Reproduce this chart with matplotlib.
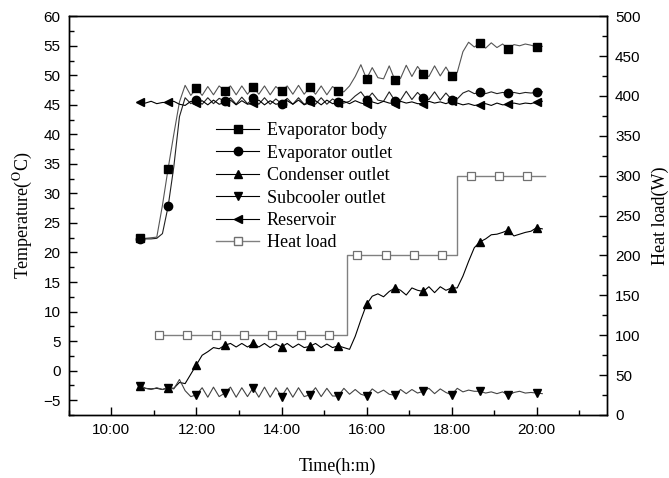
import numpy as np
import matplotlib
matplotlib.use("Agg")
import matplotlib.pyplot as plt
from matplotlib.lines import Line2D

plt.rcParams['mathtext.fontset'] = 'stix'

# logger time stamps (h:m), markers every 5th sample
times = ["10:40", "10:48", "10:56", "11:04", "11:12", "11:20", "11:28", "11:36", "11:44", "11:52",
         "12:00", "12:08", "12:16", "12:24", "12:32", "12:40", "12:48", "12:56", "13:04", "13:12",
         "13:20", "13:28", "13:36", "13:44", "13:52", "14:00", "14:08", "14:16", "14:24", "14:32",
         "14:40", "14:48", "14:56", "15:04", "15:12", "15:20", "15:28", "15:36", "15:44", "15:52",
         "16:00", "16:08", "16:16", "16:24", "16:32", "16:40", "16:48", "16:56", "17:04", "17:12",
         "17:20", "17:28", "17:36", "17:44", "17:52", "18:00", "18:08", "18:16", "18:24", "18:32",
         "18:40", "18:48", "18:56", "19:04", "19:12", "19:20", "19:28", "19:36", "19:44", "19:52",
         "20:00", "20:08"]

evap_body = [22.5, 22.4, 22.5, 22.6, 28.0, 34.2, 40.0, 45.5, 48.3, 46.6,
             47.8, 46.6, 48.1, 46.7, 48.2, 47.4, 48.2, 46.7, 48.2, 46.8,
             48.0, 46.8, 48.2, 46.7, 48.1, 47.3, 48.2, 46.8, 48.3, 46.8,
             48.0, 46.8, 48.2, 46.7, 48.1, 47.4, 47.2, 48.2, 49.8, 51.8,
             49.4, 51.3, 49.6, 49.4, 51.6, 49.2, 49.5, 51.7, 49.8, 51.5,
             50.2, 49.8, 51.6, 49.9, 51.4, 49.8, 50.5, 54.0, 55.6, 54.8,
             55.4, 54.6, 55.5, 54.7, 55.3, 54.5, 55.2, 55.0, 55.3, 55.1,
             54.8, 54.9]

evap_outlet = [22.3, 22.3, 22.3, 22.4, 23.2, 27.8, 34.5, 43.0, 46.2, 45.2,
               45.8, 45.1, 46.2, 45.2, 46.1, 45.6, 46.2, 45.1, 46.3, 45.2,
               46.1, 45.1, 46.2, 45.1, 46.0, 45.2, 46.1, 45.1, 46.2, 45.1,
               45.8, 45.1, 46.2, 45.1, 46.0, 45.4, 45.3, 45.6, 46.5, 47.2,
               45.9, 47.0, 45.8, 45.6, 47.2, 45.7, 45.8, 47.3, 45.9, 47.1,
               46.1, 45.9, 47.2, 45.8, 47.0, 45.9, 46.0, 47.0, 47.4, 46.9,
               47.1, 46.9, 47.2, 46.9, 47.1, 47.0, 47.1, 46.9, 47.1, 47.0,
               47.1, 47.2]

cond_outlet = [-2.6, -3.0, -3.1, -3.0, -3.2, -2.9, -3.0, -2.0, -2.2, -0.6,
               1.0, 2.6, 3.2, 3.9, 3.7, 4.3, 4.6, 4.0, 4.6, 4.0,
               4.6, 4.0, 4.6, 3.9, 4.5, 4.0, 4.6, 3.9, 4.5, 3.9,
               4.1, 4.6, 3.9, 4.5, 3.9, 4.2, 3.9, 3.6, 5.8, 8.6,
               11.2, 12.6, 13.0, 12.5, 13.4, 14.0, 13.6, 12.8, 14.0, 13.6,
               13.4, 14.2, 13.2, 14.2, 13.6, 14.0, 14.0, 16.0, 18.5, 20.8,
               21.8, 22.3, 23.0, 23.1, 23.4, 23.8, 22.8, 23.1, 23.4, 23.6,
               24.2, 24.0]

subcooler = [-2.6, -3.0, -3.2, -2.9, -3.2, -2.9, -3.1, -1.5, -3.4, -4.4,
             -4.1, -2.9, -4.5, -2.8, -4.4, -3.8, -2.8, -4.5, -2.9, -4.4,
             -2.9, -4.5, -2.8, -4.5, -2.9, -4.4, -2.9, -4.5, -2.9, -4.4,
             -4.1, -2.9, -4.4, -3.0, -4.3, -4.3, -3.0, -4.0, -3.2, -4.0,
             -4.3, -3.1, -3.8, -3.3, -4.0, -4.2, -3.2, -3.9, -3.2, -3.8,
             -3.5, -3.0, -3.9, -3.1, -3.7, -4.1, -3.0, -3.6, -3.3, -3.5,
             -3.5, -3.8, -3.6, -3.9, -3.6, -4.2, -3.7, -3.5, -3.8, -3.7,
             -3.8, -3.9]

reservoir = [45.5, 45.3, 45.6, 45.2, 45.4, 45.4, 45.6, 45.1, 44.9, 45.6,
             45.3, 45.7, 45.0, 45.8, 45.1, 45.4, 45.8, 45.0, 45.7, 45.1,
             45.3, 45.8, 45.0, 45.7, 45.1, 45.3, 45.7, 45.1, 45.8, 45.0,
             45.4, 45.7, 45.0, 45.8, 45.2, 45.3, 45.6, 45.2, 45.7, 45.3,
             45.1, 45.5, 45.2, 45.6, 45.3, 45.2, 45.6, 45.3, 45.5, 45.2,
             45.2, 45.6, 45.3, 45.5, 45.2, 45.6, 45.3, 45.0, 45.2, 44.9,
             45.0, 45.2, 44.9, 45.3, 45.0, 45.1, 45.3, 45.1, 45.3, 45.2,
             45.5, 45.6]

# heat load: step line and its sample markers
load_times = ["11:07", "15:32", "15:32", "18:08", "18:08", "20:12"]
load_watts = [100, 100, 200, 200, 300, 300]
load_mark_times = ["11:07", "11:47", "12:27", "13:07", "13:47", "14:27", "15:07",
                   "15:47", "16:27", "17:07", "17:47", "18:27", "19:07", "19:47"]
load_mark_watts = [100, 100, 100, 100, 100, 100, 100, 200, 200, 200, 200, 300, 300, 300]

xtick_labels = ["10:00", "12:00", "14:00", "16:00", "18:00", "20:00"]


def hours(s):
    h, m = s.split(":")
    return int(h) + int(m) / 60.0


t = [hours(s) for s in times]

fig = plt.figure(figsize=(6.69, 4.78), dpi=100)
ax = fig.add_axes([0.103, 0.132, 0.804, 0.834])
ax2 = ax.twinx()

series = [
    (evap_body, 's', '#555555', 'Evaporator body'),
    (evap_outlet, 'o', '#222222', 'Evaporator outlet'),
    (cond_outlet, '^', 'black', 'Condenser outlet'),
    (subcooler, 'v', '#444444', 'Subcooler outlet'),
    (reservoir, '<', 'black', 'Reservoir'),
]
handles = []
for vals, mk, col, lab in series:
    ax.plot(t, vals, color=col, lw=0.8, marker=mk, markevery=5, ms=6,
            mfc='black', mec='black')
    handles.append(Line2D([], [], color='black', lw=0.8, marker=mk, ms=6,
                          mfc='black', mec='black', label=lab))

ax2.plot([hours(s) for s in load_times], load_watts, color='#808080', lw=1.0)
ax2.plot([hours(s) for s in load_mark_times], load_mark_watts, ls='none',
         marker='s', ms=6, mfc='white', mec='#707070', mew=0.9)
handles.append(Line2D([], [], color='#808080', lw=1.0, marker='s', ms=6,
                      mfc='white', mec='#707070', label='Heat load'))

ax.set_xlim(9, 21.65)
ax.set_ylim(-7.5, 60)
ax2.set_ylim(0, 500)

ax.set_xticks([hours(s) for s in xtick_labels])
ax.set_xticklabels(xtick_labels)
ax.set_xticks(np.arange(9, 22, 1), minor=True)
ax.set_yticks(np.arange(-5, 61, 5))
ax.set_yticks(np.arange(-7.5, 60.1, 2.5), minor=True)
ax2.set_yticks(np.arange(0, 501, 50))
ax2.set_yticks(np.arange(0, 501, 25), minor=True)

for a in (ax, ax2):
    a.tick_params(which='major', direction='in', length=6, width=1,
                  labelsize=11, pad=6)
    a.tick_params(which='minor', direction='in', length=3.5, width=1)
    for sp in a.spines.values():
        sp.set_linewidth(1.0)
    for lbl in a.get_xticklabels() + a.get_yticklabels():
        lbl.set_fontfamily('Liberation Sans')
ax.tick_params(top=False, which='both')

serif = 'Liberation Serif'
ax.set_xlabel('Time(h:m)', fontsize=13, family=serif, labelpad=15)
ax.set_ylabel(r'Temperature($^{\mathrm{O}}$C)', fontsize=13, family=serif, labelpad=6)
ax2.set_ylabel('Heat load(W)', fontsize=13, family=serif, labelpad=8)

leg = ax.legend(handles=handles, loc='upper left', bbox_to_anchor=(0.26, 0.752),
                frameon=False, prop={'family': serif, 'size': 13},
                handlelength=2.4, handletextpad=0.4, labelspacing=0.3,
                borderaxespad=0)

fig.savefig('out.png', dpi=100)
